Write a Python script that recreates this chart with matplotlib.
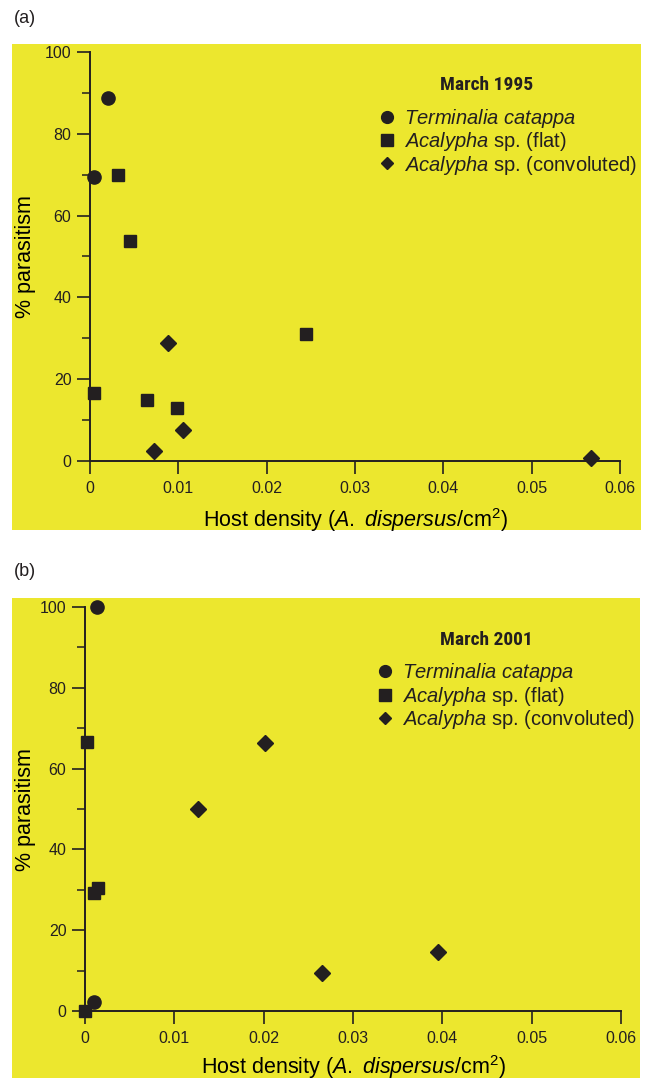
import matplotlib
matplotlib.use("Agg")
import matplotlib.pyplot as plt
import matplotlib.transforms as mtransforms
from matplotlib.patches import Rectangle
from matplotlib.lines import Line2D

# panel (a) March 1995
a_term_x = [0.0004, 0.0020]
a_term_y = [69.5, 88.8]
a_flat_x = [0.0004, 0.0032, 0.0045, 0.0064, 0.0099, 0.0245]
a_flat_y = [16.6, 69.9, 53.8, 14.9, 12.9, 31.0]
a_conv_x = [0.0073, 0.0088, 0.0105, 0.0567]
a_conv_y = [2.4, 28.9, 7.6, 0.8]

# panel (b) March 2001
b_term_x = [0.0013, 0.0010]
b_term_y = [100.0, 2.3]
b_flat_x = [0.0002, 0.0014, 0.0010, 0.0000]
b_flat_y = [66.7, 30.4, 29.3, 0.0]
b_conv_x = [0.0127, 0.0201, 0.0265, 0.0395]
b_conv_y = [50.0, 66.4, 9.5, 14.6]

xticks = [0, 0.01, 0.02, 0.03, 0.04, 0.05, 0.06]
xticklabels = ["0", "0.01", "0.02", "0.03", "0.04", "0.05", "0.06"]
yticks = [0, 20, 40, 60, 80, 100]

YELLOW = "#ECE72E"
INK = "#231F20"
NARROW = ["Liberation Sans Narrow", "DejaVu Sans Condensed", "Roboto Condensed", "Liberation Sans"]

plt.rcParams["font.family"] = ["Liberation Sans", "DejaVu Sans"]
plt.rcParams["mathtext.fontset"] = "custom"
plt.rcParams["mathtext.rm"] = "Liberation Sans"
plt.rcParams["mathtext.it"] = "Liberation Sans:italic"
plt.rcParams["text.color"] = INK

fig = plt.figure(figsize=(6.49, 10.81), dpi=100)

# yellow background panels
fig.patches.append(Rectangle((0.0185, 0.5097), 0.969, 0.4496, transform=fig.transFigure,
                             facecolor=YELLOW, edgecolor="none", zorder=-10))
fig.patches.append(Rectangle((0.0185, 0.0028), 0.968, 0.444, transform=fig.transFigure,
                             facecolor=YELLOW, edgecolor="none", zorder=-10))

fig.text(0.022, 0.983, "(a)", fontsize=13, va="center", ha="left")
fig.text(0.022, 0.471, "(b)", fontsize=13, va="center", ha="left")


def panel(rect, tx, ty, fx, fy, cx, cy, title, xpad):
    ax = fig.add_axes(rect)
    ax.patch.set_alpha(0)
    ax.plot(tx, ty, "o", color=INK, ms=9.5, clip_on=False, zorder=5)
    ax.plot(fx, fy, "s", color=INK, ms=9.3, clip_on=False, zorder=5)
    ax.plot(cx, cy, "D", color=INK, ms=8, clip_on=False, zorder=5)
    ax.set_xlim(0, 0.06)
    ax.set_ylim(0, 100)
    for s in ["top", "right"]:
        ax.spines[s].set_visible(False)
    for s in ["left", "bottom"]:
        ax.spines[s].set_color(INK)
        ax.spines[s].set_linewidth(1.4)
    ax.set_xticks(xticks)
    ax.set_xticklabels(xticklabels, fontsize=11.5)
    ax.set_yticks(yticks)
    ax.set_yticks([10, 30, 50, 70, 90], minor=True)
    ax.set_yticklabels([str(v) for v in yticks], fontsize=11.5)
    ax.tick_params(axis="x", direction="out", length=9.4, width=1.2, colors=INK, pad=5)
    ax.tick_params(axis="y", which="major", direction="out", length=9.4, width=1.2, colors=INK, pad=4)
    ax.tick_params(axis="y", which="minor", direction="out", length=5.5, width=1.1, colors=INK)
    ax.set_xlabel(r"Host density ($\it{A.}$ $\it{dispersus}$/cm$^2$)", fontsize=15.5, labelpad=xpad)
    ax.set_ylabel("% parasitism", fontsize=15.5)
    ax.yaxis.set_label_coords(25 / 649, 0.5,
                              transform=mtransforms.blended_transform_factory(fig.transFigure, ax.transAxes))
    ax.yaxis.label.set_va("center")

    ax.text(0.749, 0.919, title, transform=ax.transAxes, ha="center", va="center",
            fontfamily=NARROW, fontweight="bold", fontsize=14)

    handles = [
        Line2D([], [], ls="none", marker="o", color=INK, ms=8.5),
        Line2D([], [], ls="none", marker="s", color=INK, ms=8.5),
        Line2D([], [], ls="none", marker="D", color=INK, ms=6.5),
    ]
    labels = [r"$\it{Terminalia\ catappa}$", r"$\it{Acalypha}$ sp. (flat)",
              r"$\it{Acalypha}$ sp. (convoluted)"]
    ax.legend(handles, labels, loc="upper left", bbox_to_anchor=(0.545, 0.866),
              frameon=False, fontsize=14.5, handlelength=0.8, handletextpad=0.45,
              labelspacing=0.02, borderaxespad=0, borderpad=0)
    return ax


panel([0.1387, 0.5735, 0.8166, 0.3785], a_term_x, a_term_y, a_flat_x, a_flat_y,
      a_conv_x, a_conv_y, "March 1995", 7)
panel([0.131, 0.0647, 0.826, 0.3737], b_term_x, b_term_y, b_flat_x, b_flat_y,
      b_conv_x, b_conv_y, "March 2001", 5)

fig.savefig("out.png", dpi=100)
